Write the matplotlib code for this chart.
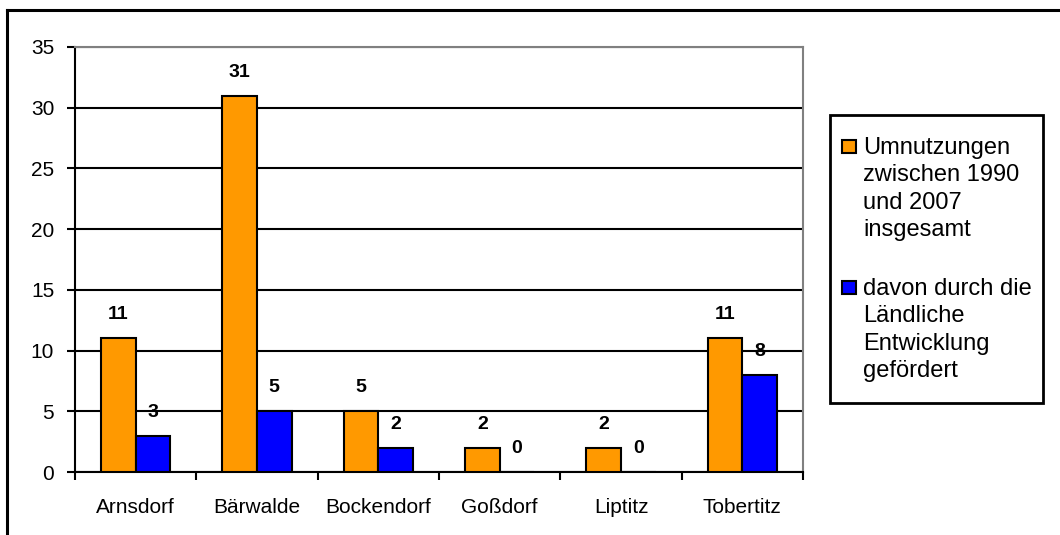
import numpy as np
import matplotlib
matplotlib.use("Agg")
import matplotlib.pyplot as plt
from matplotlib.patches import Rectangle
from matplotlib.lines import Line2D

plt.rcParams["font.family"] = ["Liberation Sans", "DejaVu Sans"]

# Umnutzungen je Ortsteil
orte = ["Arnsdorf", "Bärwalde", "Bockendorf", "Goßdorf", "Liptitz", "Tobertitz"]
gesamt = [11, 31, 5, 2, 2, 11]
gefoerdert = [3, 5, 2, 0, 0, 8]
labels = ["Umnutzungen\nzwischen 1990\nund 2007\ninsgesamt",
          "davon durch die\nLändliche\nEntwicklung\ngefördert"]
colors = ["#FF9900", "#0000FF"]
yticks = [0, 5, 10, 15, 20, 25, 30, 35]

W, H = 1060, 535
fig = plt.figure(figsize=(W / 100, H / 100), dpi=100)

def fx(px):
    return px / W

def fy(py):
    return 1 - py / H

# outer chart frame (only left and top edges are in view)
fig.add_artist(Line2D([fx(7), fx(7)], [fy(10), 0], color="black", lw=2.2,
                      transform=fig.transFigure))
fig.add_artist(Line2D([fx(7), 1], [fy(10), fy(10)], color="black", lw=2.2,
                      transform=fig.transFigure))

ax = fig.add_axes([fx(75), fy(472), fx(803) - fx(75), fy(47) - fy(472)])

x = np.arange(len(orte))
w = 0.285
b1 = ax.bar(x - w / 2, gesamt, w, color=colors[0], edgecolor="black", lw=1.5, zorder=3)
b2 = ax.bar(x + w / 2, gefoerdert, w, color=colors[1], edgecolor="black", lw=1.5, zorder=3)

for bars, vals in ((b1, gesamt), (b2, gefoerdert)):
    for r, v in zip(bars, vals):
        ax.annotate(str(v), (r.get_x() + r.get_width() / 2, v),
                    xytext=(0, 15), textcoords="offset pixels",
                    ha="center", va="bottom", fontsize=14, fontweight="bold")

ax.set_xlim(-0.5, len(orte) - 0.5)
ax.set_ylim(0, 35)
ax.set_yticks(yticks)
ax.tick_params(axis="y", labelsize=15, length=6, width=1.5, direction="out", pad=9)

# category ticks sit between the groups, names centered underneath
ax.set_xticks(np.arange(len(orte) + 1) - 0.5)
ax.set_xticklabels([])
ax.set_xticks(x, minor=True)
ax.set_xticklabels(orte, minor=True, fontsize=15)
ax.tick_params(axis="x", which="major", length=6, width=1.5, direction="out")
ax.tick_params(axis="x", which="minor", length=0, pad=19)

ax.grid(axis="y", color="black", lw=1.5, zorder=0)
ax.set_axisbelow(True)
for s in ("top", "right"):
    ax.spines[s].set_color("#808080")
    ax.spines[s].set_linewidth(1.5)
for s in ("left", "bottom"):
    ax.spines[s].set_color("black")
    ax.spines[s].set_linewidth(1.5)

# legend box drawn by hand so each patch sits on the first text line
fig.add_artist(Rectangle((fx(830), fy(403)), fx(1043) - fx(830), fy(115) - fy(403),
                         transform=fig.transFigure, fill=False, ec="black", lw=2))
pitch = 27.3
for lab, col, base in zip(labels, colors, [154, 295]):
    fig.add_artist(Rectangle((fx(842), fy(base - 1)), fx(14), fy(0) - fy(13),
                             transform=fig.transFigure, fc=col, ec="black", lw=1.5))
    for i, line in enumerate(lab.split("\n")):
        fig.text(fx(863), fy(base + i * pitch), line, fontsize=17,
                 va="baseline", ha="left")

fig.savefig("out.png", dpi=100)
